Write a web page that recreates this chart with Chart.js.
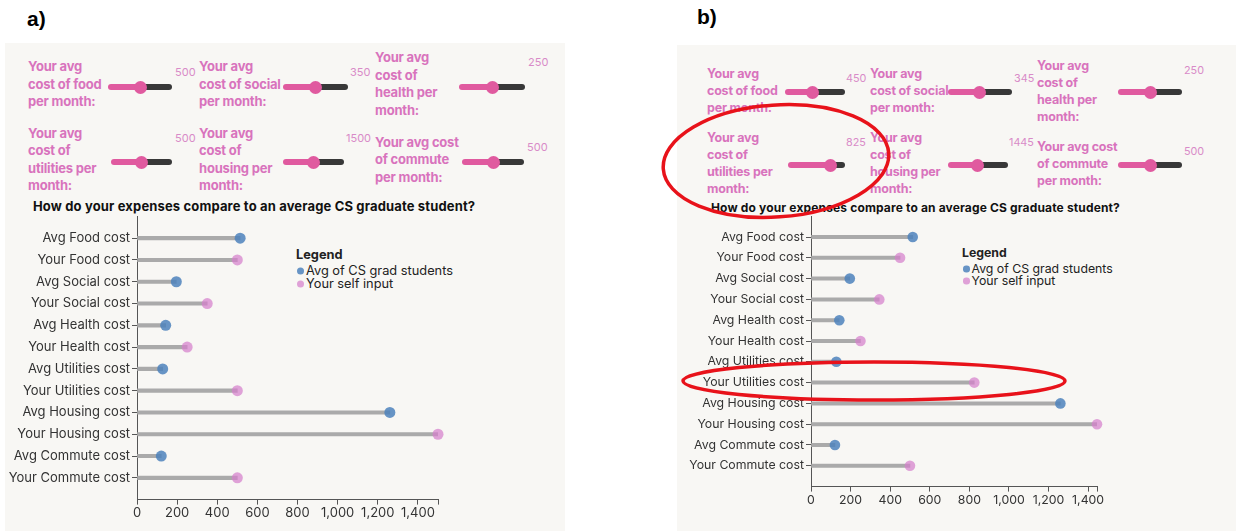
<!DOCTYPE html>
<html><head><meta charset="utf-8">
<script src="https://cdn.jsdelivr.net/npm/chart.js@4.4.1/dist/chart.umd.min.js"></script>
<style>
body{margin:0;width:1236px;height:531px;position:relative;overflow:hidden;background:#fff;font-family:Inter,"Noto Sans",sans-serif;}
.box{position:absolute;background:#f8f7f4;}
.plabel{position:absolute;font:bold 21px "Liberation Sans",Arial,sans-serif;color:#000;transform:translateY(-50%);}
.lbl{position:absolute;color:#d873bd;font-weight:700;white-space:pre;transform:translateY(-50%);letter-spacing:-0.2px;}
.val{position:absolute;color:#d88bc8;transform:translateY(-50%);}
.title{position:absolute;font-weight:700;color:#111;white-space:nowrap;transform:translateY(-50%);letter-spacing:0.15px;}
.leg{position:absolute;color:#222;white-space:nowrap;transform:translateY(-50%);}
.dot{display:inline-block;border-radius:50%;vertical-align:middle;margin-right:2px;}
canvas{position:absolute;}
input[type=range]{-webkit-appearance:none;appearance:none;position:absolute;margin:0;padding:0;height:14px;background:transparent;transform:translateY(-50%);}
input[type=range]::-webkit-slider-runnable-track{height:6px;border-radius:3px;background:linear-gradient(to right,#e05a9f var(--p),#383838 var(--p));}
input[type=range]::-webkit-slider-thumb{-webkit-appearance:none;width:13px;height:13px;border-radius:50%;background:#e05a9f;margin-top:-3.5px;border:none;}
svg{position:absolute;left:0;top:0;pointer-events:none;}
</style></head>
<body>
<script>
// ---- data ----
const categories = ['Food','Social','Health','Utilities','Housing','Commute'];
const avgCost    = [514, 196, 143, 128, 1260, 121];
const yourCostA  = [500, 350, 250, 500, 1500, 500];
const yourCostB  = [450, 345, 250, 825, 1445, 500];
const sliderMax  = [1000, 700, 500, 1000, 3000, 1000];
const sliderText = [
  'Your avg\ncost of food\nper month:',
  'Your avg\ncost of social\nper month:',
  'Your avg\ncost of\nhealth per\nmonth:',
  'Your avg\ncost of\nutilities per\nmonth:',
  'Your avg\ncost of\nhousing per\nmonth:',
  'Your avg cost\nof commute\nper month:'
];
const xTickValues = [0,200,400,600,800,1000,1200,1400];
const chartTitle = 'How do your expenses compare to an average CS graduate student?';
const legendTitle = 'Legend';
const legendItems = ['Avg of CS grad students','Your self input'];
const BLUE = 'rgba(78,130,188,0.85)';
const PINK = 'rgba(214,128,204,0.72)';

// ---- layout ----
const layoutA = {
  box:{x:5,y:43,w:560,h:488}, plabel:{x:27,y:19,t:'a)'},
  title:{x:33,y:206,size:13},
  canvas:{x:0,y:195,w:565,h:336}, yAxisW:137, padTop:21.4, padRight:127, xAxisH:31.4,
  tickFont:13, dotR:5.5, stem:3.5,
  legend:{x:296,y:[254,270,283],size:12.8,dot:7},
  labelFont:13, lineH:17.5, valFont:11,
  cells:[
    {lx:28, cy:84, sx:108, sw:64, sy:87, vx:175, vy:72},
    {lx:199,cy:84, sx:283, sw:65, sy:87, vx:350, vy:72},
    {lx:375,cy:84, sx:459, sw:66, sy:87, vx:528, vy:62},
    {lx:28, cy:159.5, sx:111, sw:61, sy:162, vx:175, vy:138},
    {lx:199,cy:159.5, sx:283, sw:61, sy:162, vx:346, vy:138},
    {lx:375,cy:159.5, sx:462, sw:62, sy:162, vx:527, vy:147}
  ]
};
const layoutB = {
  box:{x:677,y:45,w:559,h:486}, plabel:{x:697,y:17,t:'b)'},
  title:{x:711,y:207,size:12},
  canvas:{x:677,y:195,w:559,h:336}, yAxisW:134, padTop:21.2, padRight:139, xAxisH:44.4,
  tickFont:12.3, dotR:5.3, stem:3.3,
  legend:{x:962,y:[252,268,280],size:12.3,dot:6.5},
  labelFont:12.5, lineH:17, valFont:10.8,
  cells:[
    {lx:707, cy:90, sx:785, sw:60, sy:92, vx:846, vy:78},
    {lx:870, cy:90, sx:948, sw:64, sy:92, vx:1014, vy:78},
    {lx:1037,cy:90.5, sx:1118, sw:64, sy:92, vx:1184, vy:70},
    {lx:707, cy:162.5, sx:788, sw:57, sy:165, vx:846, vy:142},
    {lx:870, cy:162.5, sx:948, sw:60, sy:165, vx:1009, vy:142},
    {lx:1037,cy:163, sx:1118, sw:64, sy:165, vx:1184, vy:151}
  ]
};

function el(tag, cls, css, text){
  const e=document.createElement(tag);
  if(cls) e.className=cls;
  Object.assign(e.style, css||{});
  if(text!==undefined) e.textContent=text;
  document.body.appendChild(e);
  return e;
}

function buildPanel(L, yourCost){
  el('div','box',{left:L.box.x+'px',top:L.box.y+'px',width:L.box.w+'px',height:L.box.h+'px'});
  el('div','plabel',{left:L.plabel.x+'px',top:L.plabel.y+'px'},L.plabel.t);
  L.cells.forEach((c,i)=>{
    el('div','lbl',{left:c.lx+'px',top:c.cy+'px',fontSize:L.labelFont+'px',lineHeight:L.lineH+'px'},sliderText[i]);
    const inp=el('input',null,{left:c.sx+'px',top:c.sy+'px',width:c.sw+'px'});
    inp.type='range'; inp.min=0; inp.max=sliderMax[i]; inp.value=yourCost[i];
    inp.style.setProperty('--p',(100*yourCost[i]/sliderMax[i])+'%');
    el('div','val',{left:c.vx+'px',top:c.vy+'px',fontSize:L.valFont+'px'},String(yourCost[i]));
  });
  el('div','title',{left:L.title.x+'px',top:L.title.y+'px',fontSize:L.title.size+'px'},chartTitle);
  el('div','leg',{left:L.legend.x+'px',top:L.legend.y[0]+'px',fontSize:L.legend.size+'px',fontWeight:'700'},legendTitle);
  legendItems.forEach((t,k)=>{
    const d=el('div','leg',{left:(L.legend.x+1)+'px',top:L.legend.y[k+1]+'px',fontSize:L.legend.size+'px'});
    const s=document.createElement('span'); s.className='dot';
    Object.assign(s.style,{width:L.legend.dot+'px',height:L.legend.dot+'px',background:k?PINK:BLUE});
    d.appendChild(s); d.appendChild(document.createTextNode(t));
  });
  const cv=el('canvas',null,{left:L.canvas.x+'px',top:L.canvas.y+'px',width:L.canvas.w+'px',height:L.canvas.h+'px'});
  cv.width=L.canvas.w; cv.height=L.canvas.h;
  const rowLabels=categories.flatMap(c=>['Avg '+c+' cost','Your '+c+' cost']);
  const stems=[], avgPts=[], yourPts=[];
  categories.forEach((c,i)=>{
    stems.push({x:avgCost[i],y:2*i}); stems.push({x:yourCost[i],y:2*i+1});
    avgPts.push({x:avgCost[i],y:2*i}); yourPts.push({x:yourCost[i],y:2*i+1});
  });
  const xmax=Math.max(...avgCost,...yourCost);
  const tickFont={family:'Inter, "Noto Sans", sans-serif',size:L.tickFont};
  new Chart(cv,{
    type:'bar',
    data:{datasets:[
      {type:'bar',data:stems,backgroundColor:'#aaaaaa',barThickness:L.stem,order:2,indexAxis:'y'},
      {type:'scatter',data:avgPts,backgroundColor:BLUE,pointRadius:L.dotR,pointBorderWidth:0,order:0,clip:false},
      {type:'scatter',data:yourPts,backgroundColor:PINK,pointRadius:L.dotR,pointBorderWidth:0,order:0,clip:false}
    ]},
    options:{
      indexAxis:'y',responsive:false,animation:false,devicePixelRatio:1,
      layout:{padding:{top:L.padTop,right:L.padRight,left:0,bottom:0}},
      plugins:{legend:{display:false},tooltip:{enabled:false}},
      scales:{
        x:{type:'linear',min:0,max:xmax,offset:false,
          afterBuildTicks:s=>{s.ticks=xTickValues.concat([xmax]).map(v=>({value:v}));},
          afterFit:s=>{s.height=L.xAxisH;},
          grid:{drawOnChartArea:false,drawTicks:true,tickLength:5,color:'#555',offset:false},
          border:{display:true,color:'#555'},
          ticks:{autoSkip:false,maxRotation:0,padding:1,color:'#333',font:tickFont,
            callback:v=>xTickValues.includes(v)?v.toLocaleString('en-US'):''}
        },
        y:{type:'linear',reverse:true,min:-1,max:12,offset:false,
          afterBuildTicks:s=>{s.ticks=rowLabels.map((_,i)=>({value:i}));},
          afterFit:s=>{s.width=L.yAxisW;},
          grid:{drawOnChartArea:false,drawTicks:true,tickLength:5,color:'#555',offset:false},
          border:{display:true,color:'#555'},
          ticks:{autoSkip:false,padding:2,color:'#333',font:tickFont,callback:v=>rowLabels[v]}
        }
      }
    }
  });
}
buildPanel(layoutA, yourCostA);
buildPanel(layoutB, yourCostB);

const svg=document.createElementNS('http://www.w3.org/2000/svg','svg');
svg.setAttribute('width','1236'); svg.setAttribute('height','531');
[[776,161,113,56,-4],[874,381,191,19,0]].forEach(([cx,cy,rx,ry,r])=>{
  const e=document.createElementNS('http://www.w3.org/2000/svg','ellipse');
  e.setAttribute('cx',cx);e.setAttribute('cy',cy);e.setAttribute('rx',rx);e.setAttribute('ry',ry);
  e.setAttribute('transform',`rotate(${r} ${cx} ${cy})`);
  e.setAttribute('fill','none');e.setAttribute('stroke','#e8121a');e.setAttribute('stroke-width','3.5');
  svg.appendChild(e);
});
document.body.appendChild(svg);
</script>
</body></html>
